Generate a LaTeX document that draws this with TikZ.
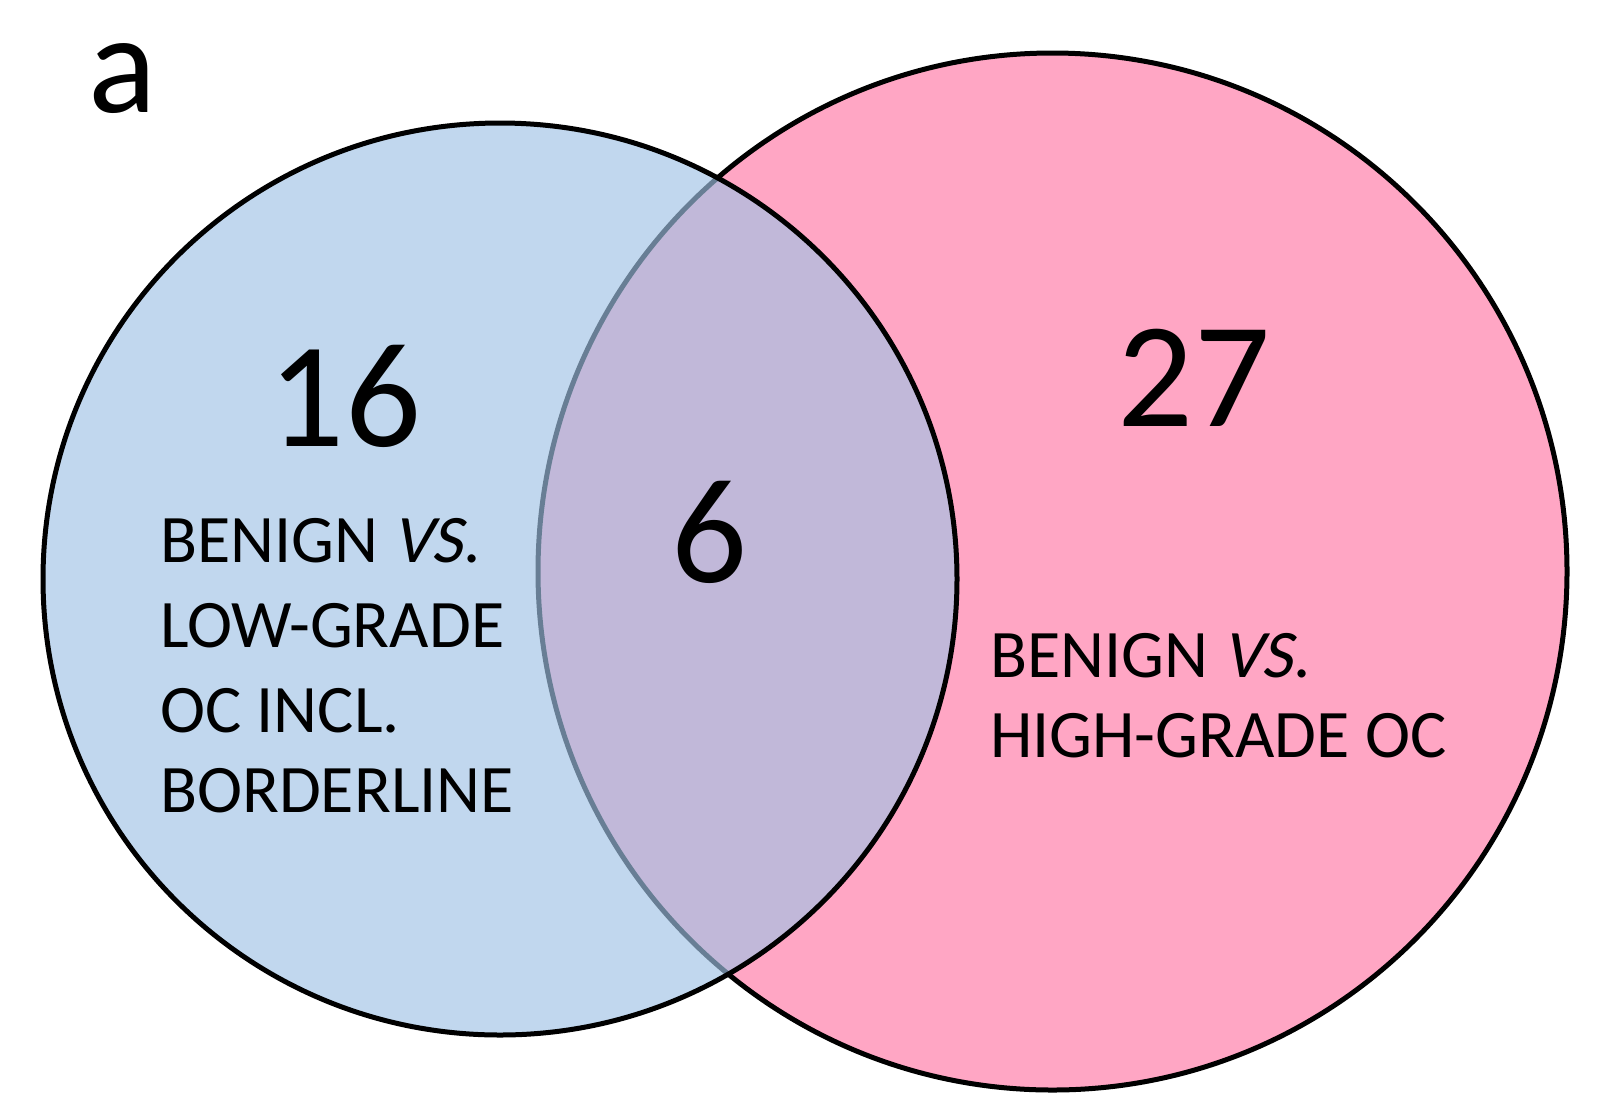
\documentclass[tikz,border=0pt]{standalone}
\usepackage{fontspec}
\setmainfont{Carlito}[ItalicFont=Carlito, ItalicFeatures={FakeSlant=0.2}]
\definecolor{vpink}{RGB}{255,166,196}
\definecolor{vblue}{RGB}{161,195,229}
\tikzset{
  setA/.style={fill=vblue, fill opacity=0.65, draw=black, draw opacity=1, line width=5pt},
  setB/.style={fill=vpink, draw=black, line width=5pt},
  bignum/.style={inner sep=0pt, anchor=base, font=\fontsize{150}{152}\selectfont},
  lbl/.style={inner sep=0pt, anchor=base west, font=\fontsize{68}{82}\selectfont}
}
\begin{document}
\begin{tikzpicture}[x=1pt,y=-1pt]
\path[use as bounding box, fill=white] (0,0) rectangle (1597,1112);
% right set (pink), drawn first
\path[setB] (1052.5,571.5) ellipse [x radius=514.5pt, y radius=518.5pt];
% left set (blue, translucent), drawn on top
\path[setA] (500,579) ellipse [x radius=457pt, y radius=456pt];
% panel letter
\node[inner sep=0pt, anchor=base west, font=\fontsize{142}{144}\selectfont] (panel) at (88,112) {a};
% counts
\node[bignum] (nA) at (345,446) {16};
\node[bignum] (nAB) at (710,582) {6};
\node[bignum] (nB) at (1194,426) {27};
% left label
\node[lbl] (a1) at (160,562) {BENIGN \textit{VS}.};
\node[lbl] (a2) at (160,647) {LOW-GRADE};
\node[lbl] (a3) at (160,732) {OC INCL.};
\node[lbl] (a4) at (160,812) {BORDERLINE};
% right label
\node[lbl] (b1) at (990,677) {BENIGN \textit{VS}.};
\node[lbl] (b2) at (990,757) {HIGH-GRADE OC};
\end{tikzpicture}
\end{document}
